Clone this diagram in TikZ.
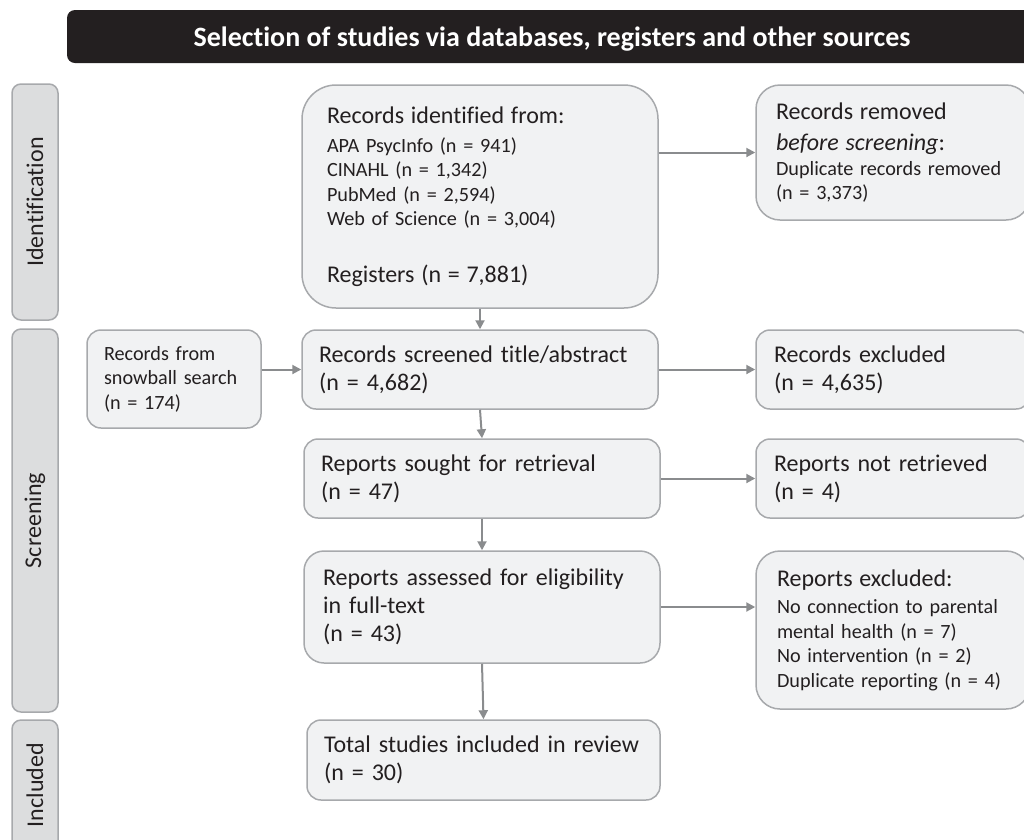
\documentclass[tikz,border=0pt]{standalone}
\usepackage{fontspec}
\setmainfont[Ligatures=NoCommon]{Carlito}
\usetikzlibrary{arrows.meta}
\definecolor{ink}{HTML}{231F20}
\definecolor{boxfill}{HTML}{F1F2F3}
\definecolor{boxline}{HTML}{A7A9AC}
\definecolor{sidefill}{HTML}{DCDDDE}
\definecolor{arrowgray}{HTML}{8A8C8E}
\newcommand{\bigtxt}{\fontsize{24}{28}\selectfont}
\newcommand{\smalltxt}{\fontsize{20.2}{24.5}\selectfont}

\begin{document}
\begin{tikzpicture}[x=1pt,y=-1pt,
	box/.style={draw=boxline,fill=boxfill,line width=1.5pt,text=ink,align=left,inner ysep=0pt,font=\bigtxt},
	side/.style={draw=boxline,fill=sidefill,line width=1.5pt,rounded corners=9pt,minimum height=46pt,rotate=90,text=ink,font=\fontsize{24}{28}\selectfont},
	flow/.style={draw=arrowgray,line width=2pt,-{Triangle[length=9pt,width=9pt]}}]
			\useasboundingbox (0,0) rectangle (1024,839);
			\clip (0,0) rectangle (1024,839);
			
			\node[fill=ink,rounded corners=8pt,minimum width=970pt,minimum height=53pt,text depth=0pt,text=white,font=\bfseries\fontsize{28}{32}\selectfont] (title) at (552,36.5) {Selection of studies via databases, registers and other sources};
			
			\node[side,minimum width=236pt] (idlab) at (35,202) {Identification};
			\node[side,minimum width=383pt] (scrlab) at (35,520.5) {Screening};
			\node[side,minimum width=130pt] (inclab) at (35,785) {Included};
			
			\node[box,rounded corners=34pt,text width=306pt,inner xsep=25pt,minimum height=223pt,font=\smalltxt] (ident) at (480,196.5) {{\bigtxt Records identified from:}\\[4pt]
				APA PsycInfo (n = 941)\\
				CINAHL (n = 1,342)\\
				PubMed (n = 2,594)\\
				Web of Science (n = 3,004)\\[32pt]
				{\bigtxt Registers (n = 7,881)}};
			\node[box,rounded corners=24pt,text width=234pt,inner xsep=20pt,minimum height=135pt,font=\smalltxt] (removed) at (893,152.5) {{\bigtxt Records removed}\\[7pt]
				{\bigtxt\textit{before screening}:}\\
				Duplicate records removed\\
				(n = 3,373)};
			
			\node[box,rounded corners=14pt,text width=140pt,inner xsep=17pt,minimum height=98pt,font=\smalltxt] (snowball) at (174,379) {Records from\\ snowball search\\ (n = 174)};
			\node[box,rounded corners=14pt,text width=322pt,inner xsep=17pt,minimum height=79pt] (screened) at (480,369.5) {Records screened title/abstract\\ (n = 4,682)};
			\node[box,rounded corners=14pt,text width=238pt,inner xsep=18pt,minimum height=79pt] (excluded) at (893,369.5) {Records excluded\\ (n = 4,635)};
			
			\node[box,rounded corners=14pt,text width=322pt,inner xsep=17pt,minimum height=79pt] (sought) at (482,478.5) {Reports sought for retrieval\\ (n = 47)};
			\node[box,rounded corners=14pt,text width=238pt,inner xsep=18pt,minimum height=79pt] (notretr) at (893,478.5) {Reports not retrieved\\ (n = 4)};
			
			\node[box,rounded corners=20pt,text width=318pt,inner xsep=19pt,minimum height=112pt] (assessed) at (482,607) {Reports assessed for eligibility\\ in full-text\\ (n = 43)};
			\node[box,rounded corners=24pt,text width=232pt,inner xsep=21pt,minimum height=158pt,font=\smalltxt] (repexcl) at (893,630) {{\bigtxt Reports excluded:}\\[3pt]
				No connection to parental\\
				mental health (n = 7)\\
				No intervention (n = 2)\\
				Duplicate reporting (n = 4)};
			
			\node[box,rounded corners=14pt,text width=319pt,inner xsep=17pt,minimum height=80pt] (total) at (483.5,760) {Total studies included in review\\ (n = 30)};
			
			\draw[flow] (ident.east |- removed.west) -- (removed.west);
			\draw[flow] (ident.south) -- (screened.north);
			\draw[flow] (snowball.east |- screened.west) -- (screened.west);
			\draw[flow] (screened.east) -- (excluded.west);
			\draw[flow] (screened.south) -- (sought.north);
			\draw[flow] (sought.east) -- (notretr.west);
			\draw[flow] (sought.south) -- (assessed.north);
			\draw[flow] (assessed.east) -- (assessed.east -| repexcl.west);
			\draw[flow] (assessed.south) -- (total.north);
			\end{tikzpicture}
\end{document}
